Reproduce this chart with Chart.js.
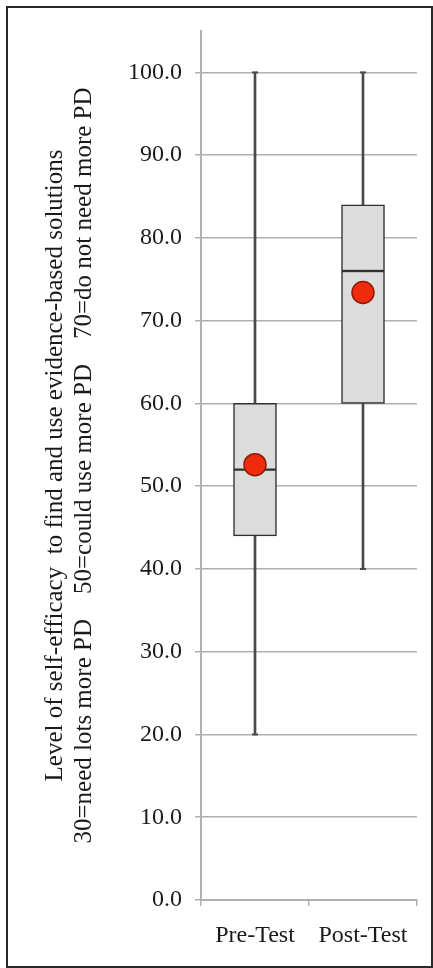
<!DOCTYPE html>
<html>
<head>
<meta charset="utf-8">
<script src="https://cdn.jsdelivr.net/npm/chart.js@4/dist/chart.umd.min.js"></script>
<style>
  html, body { margin: 0; padding: 0; background: #fff; }
  #wrap { position: relative; width: 433px; height: 968px; }
  #frame { position: absolute; left: 6px; top: 6px; width: 423px; height: 958px; border: 2px solid #2a2a2a; pointer-events: none; }
</style>
</head>
<body>
<div id="wrap">
  <canvas id="c"></canvas>
  <div id="frame"></div>
</div>
<script>
// ---- data ----
const categories = ['Pre-Test', 'Post-Test'];
const minValues = [20, 40];
const q1Values = [44, 60];
const medianValues = [52, 76];
const q3Values = [60, 84];
const maxValues = [100, 100];
const meanValues = [52.6, 73.4];
const yTickValues = [0, 10, 20, 30, 40, 50, 60, 70, 80, 90, 100];
const yTitleLines = [
  'Level of self-efficacy  to find and use evidence-based solutions',
  '30=need lots more PD    50=could use more PD    70=do not need more PD'
];

const serif = "'Liberation Serif', 'DejaVu Serif', serif";
const gridColor = '#b0b0b0';

new Chart(document.getElementById('c'), {
  type: 'bar',
  data: {
    labels: categories,
    datasets: [
      {
        label: 'whisker',
        data: categories.map((_, i) => [minValues[i], maxValues[i]]),
        backgroundColor: '#4a4a4a',
        borderWidth: 0,
        barThickness: 2,
        grouped: false,
        order: 5
      },
      {
        label: 'lower box',
        data: categories.map((_, i) => [q1Values[i], medianValues[i]]),
        backgroundColor: '#dcdcdc',
        borderColor: '#303030',
        borderWidth: 1.5,
        borderSkipped: false,
        barThickness: 43,
        grouped: false,
        order: 4
      },
      {
        label: 'upper box',
        data: categories.map((_, i) => [medianValues[i], q3Values[i]]),
        backgroundColor: '#dcdcdc',
        borderColor: '#303030',
        borderWidth: 1.5,
        borderSkipped: false,
        barThickness: 43,
        grouped: false,
        order: 3
      },
      {
        type: 'line',
        label: 'max cap',
        data: maxValues,
        showLine: false,
        pointStyle: 'line',
        pointRadius: 3,
        pointBorderWidth: 2,
        pointBorderColor: '#4a4a4a',
        order: 2
      },
      {
        type: 'line',
        label: 'min cap',
        data: minValues,
        showLine: false,
        pointStyle: 'line',
        pointRadius: 3,
        pointBorderWidth: 2,
        pointBorderColor: '#4a4a4a',
        order: 2
      },
      {
        type: 'line',
        label: 'mean',
        data: meanValues,
        showLine: false,
        pointStyle: 'circle',
        pointRadius: 11,
        pointBackgroundColor: '#f02a0c',
        pointBorderColor: '#8c1d05',
        pointBorderWidth: 1.5,
        order: 1
      }
    ]
  },
  options: {
    responsive: true,
    maintainAspectRatio: false,
    animation: false,
    layout: { padding: { left: 0, right: 16, top: 31, bottom: 0 } },
    plugins: { legend: { display: false }, tooltip: { enabled: false } },
    scales: {
      x: {
        type: 'category',
        offset: true,
        grid: { display: true, drawOnChartArea: false, drawTicks: true, offset: true, tickLength: 6, color: gridColor, lineWidth: 1.5 },
        border: { display: true, color: gridColor, width: 2 },
        ticks: { color: '#1a1a1a', padding: 15, font: { family: serif, size: 24 } },
        afterFit: (s) => { s.height = 68; }
      },
      y: {
        min: 0,
        max: 105,
        afterBuildTicks: (s) => { s.ticks = yTickValues.map(v => ({ value: v })); },
        grid: { color: gridColor, lineWidth: 1.5, tickLength: 6, drawTicks: true },
        border: { display: true, color: gridColor, width: 2 },
        ticks: {
          color: '#1a1a1a',
          padding: 13,
          font: { family: serif, size: 24 },
          callback: (v) => Number(v).toFixed(1)
        },
        title: {
          display: true,
          text: yTitleLines,
          color: '#1a1a1a',
          font: { family: serif, size: 25, lineHeight: 1.15 },
          padding: { top: 41, bottom: 0 }
        },
        afterFit: (s) => { s.width = 201; }
      }
    }
  }
});
</script>
</body>
</html>
